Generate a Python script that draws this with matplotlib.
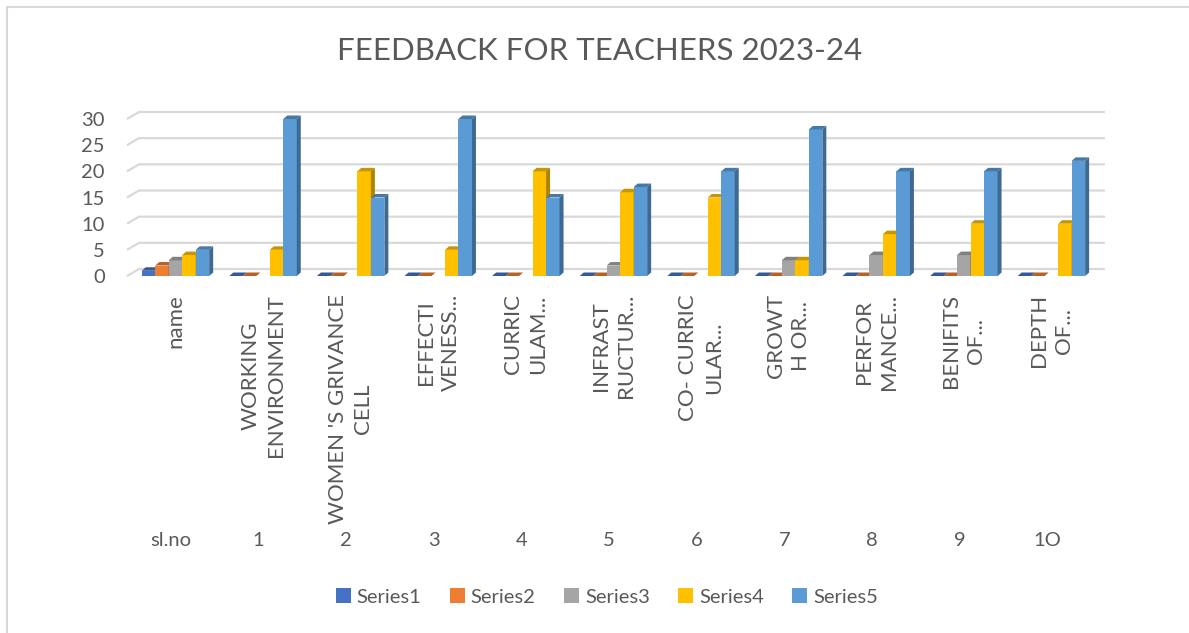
import numpy as np
import matplotlib
matplotlib.use("Agg")
import matplotlib.pyplot as plt
from matplotlib.patches import Polygon, Patch, Rectangle
from matplotlib import transforms
from matplotlib.colors import to_rgb

plt.rcParams['font.family'] = ['Lato', 'DejaVu Sans']

categories = ["name", "WORKING\nENVIRONMENT", "WOMEN 'S GRIVANCE\nCELL", "EFFECTI\nVENESS...",
              "CURRIC\nULAM...", "INFRAST\nRUCTUR...", "CO- CURRIC\nULAR...", "GROWT\nH OR...",
              "PERFOR\nMANCE...", "BENIFITS\nOF...", "DEPTH\nOF..."]
slno = ["sl.no", "1", "2", "3", "4", "5", "6", "7", "8", "9", "1O"]
nan = np.nan
series1 = [1, 0, 0, 0, 0, 0, 0, 0, 0, 0, 0]
series2 = [2, 0, 0, 0, 0, 0, 0, 0, 0, 0, 0]
series3 = [3, nan, nan, nan, nan, 2, nan, 3, 4, 4, nan]
series4 = [4, 5, 20, 5, 20, 16, 15, 3, 8, 10, 10]
series5 = [5, 30, 15, 30, 15, 17, 20, 28, 20, 20, 22]
series_names = ["Series1", "Series2", "Series3", "Series4", "Series5"]
series = [series1, series2, series3, series4, series5]
colors = ["#4472C4", "#ED7D31", "#A5A5A5", "#FFC000", "#5B9BD5"]
yticks = [0, 5, 10, 15, 20, 25, 30]

W, H = 1189, 633
fig = plt.figure(figsize=(W / 100, H / 100), dpi=100)
fig.patch.set_facecolor("white")

# chart border (only top/left visible)
fig.add_artist(Rectangle((7 / W, -0.1), 1.2, 1 - 7 / H + 0.1, transform=fig.transFigure,
                         fill=False, edgecolor="#D9D9D9", linewidth=1.5))

# plot area in pixels (front face)
x_left, x_right = 127, 1093
y_bot, y_top = 276, 119
ax = fig.add_axes([x_left / W, 1 - y_bot / H, (x_right - x_left) / W, (y_bot - y_top) / H])
xmin, xmax = -0.553, 10.475
ax.set_xlim(xmin, xmax)
ax.set_ylim(0, 30)
for s in ax.spines.values():
    s.set_visible(False)
ax.set_facecolor("none")

px_x = (x_right - x_left) / (xmax - xmin)
px_y = (y_bot - y_top) / 30.0

# gridlines (back wall with perspective diagonal)
gdx, gdy = 12 / px_x, 7 / px_y
x_end = xmin + (1105 - x_left) / px_x
for v in yticks:
    ax.plot([xmin, xmin + gdx, x_end], [v, v + gdy, v + gdy], color="#D9D9D9",
            linewidth=1.6, zorder=0, clip_on=False, solid_capstyle="butt")

# bars with pseudo 3D
w = 0.154
bdx, bdy = 4 / px_x, 3.5 / px_y
x = np.arange(len(categories))


def shade(c, f):
    r, g, b = to_rgb(c)
    return (r * f, g * f, b * f)


for j, (vals, c) in enumerate(zip(series, colors)):
    xs = x + (j - 2) * w
    vals = np.array(vals, dtype=float)
    z = 2 + j
    ax.bar(xs, np.nan_to_num(vals), width=w, color=c, zorder=z, linewidth=0)
    for xi, v in zip(xs, vals):
        if np.isnan(v):
            continue
        l, r = xi - w / 2, xi + w / 2
        top = Polygon([(l, v), (r, v), (r + bdx, v + bdy), (l + bdx, v + bdy)],
                      closed=True, facecolor=shade(c, 0.78), edgecolor="none",
                      zorder=z, clip_on=False)
        ax.add_patch(top)
        if v > 0:
            side = Polygon([(r, 0), (r + bdx, bdy), (r + bdx, v + bdy), (r, v)],
                           closed=True, facecolor=shade(c, 0.68), edgecolor="none",
                           zorder=z, clip_on=False)
            ax.add_patch(side)

txt = "#595959"
ax.set_yticks(yticks)
ax.set_yticklabels([str(v) for v in yticks], fontsize=14.5, color=txt)
ax.tick_params(axis="y", length=0, pad=16)
ax.set_xticks(x)
ax.set_xticklabels(categories, rotation=90, fontsize=16, color=txt,
                   ha="center", va="top", multialignment="center", linespacing=1.33)
ax.tick_params(axis="x", length=0, pad=13)

# second-level category labels
trans = transforms.blended_transform_factory(ax.transData, fig.transFigure)
for xi, lab in zip(x, slno):
    ax.text(xi - 0.05, 1 - 541 / H, lab, transform=trans, ha="center", va="center",
            fontsize=14.5, color=txt)

# title
fig.text(600 / W, 1 - 51 / H, "FEEDBACK FOR TEACHERS 2023-24", ha="center", va="center",
         fontsize=22.5, color=txt)

# legend
handles = [Patch(facecolor=c, edgecolor="none") for c in colors]
fig.legend(handles, series_names, loc="center", bbox_to_anchor=(607 / W, 1 - 597 / H),
           ncol=5, frameon=False, fontsize=14.5, labelcolor=txt, handlelength=0.75,
           handleheight=0.75, handletextpad=0.3, columnspacing=1.4)

fig.savefig("out.png", dpi=100, facecolor="white")
